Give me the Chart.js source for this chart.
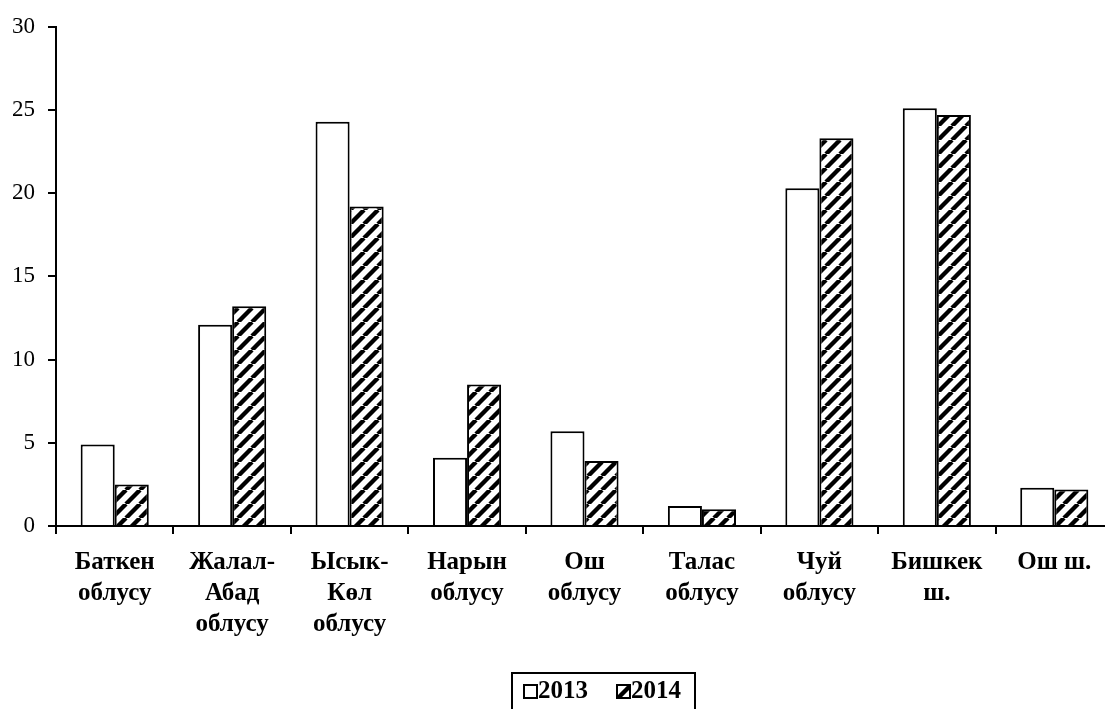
<!DOCTYPE html>
<html>
<head>
<meta charset="utf-8">
<script src="https://cdn.jsdelivr.net/npm/chart.js@4/dist/chart.umd.min.js"></script>
<style>
  html, body { margin: 0; padding: 0; background: #fff; overflow: hidden; }
  #wrap { width: 1120px; height: 709px; }
</style>
</head>
<body>
<div id="wrap"><canvas id="chart" width="1120" height="709"></canvas></div>
<script>
const regions = [
    ["Баткен", "облусу"],
    ["Жалал-", "Абад", "облусу"],
    ["Ысык-", "Көл", "облусу"],
    ["Нарын", "облусу"],
    ["Ош", "облусу"],
    ["Талас", "облусу"],
    ["Чуй", "облусу"],
    ["Бишкек", "ш."],
    ["Ош ш."]
];
const years = ["2013", "2014"];
const values2013 = [4.9, 12.1, 24.3, 4.1, 5.7, 1.2, 20.3, 25.1, 2.3];
const values2014 = [2.5, 13.2, 19.2, 8.5, 3.9, 1.0, 23.3, 24.7, 2.2];
const yTicks = [0, 5, 10, 15, 20, 25, 30];

const serif = "'Liberation Serif', 'Times New Roman', serif";

function hatch() {
    const s = 14;
    const c = document.createElement("canvas");
    c.width = s;
    c.height = s;
    const g = c.getContext("2d");
    g.fillStyle = "#fff";
    g.fillRect(0, 0, s, s);
    g.strokeStyle = "#000";
    g.lineWidth = 4.4;
    for (let k = -1; k <= 1; k++) {
        g.beginPath();
        g.moveTo(k * s, s);
        g.lineTo(k * s + s, 0);
        g.stroke();
    }
    return g.createPattern(c, "repeat");
}

const stripes = hatch();

// legend drawn by hand: a framed box under the axis labels
const boxLegend = {
    id: "boxLegend",
    afterDraw(chart) {
        const ctx = chart.ctx;
        ctx.save();
        ctx.lineWidth = 2;
        ctx.strokeStyle = "#000";
        ctx.strokeRect(512, 673, 183, 60);
        ctx.font = "bold 25px " + serif;
        ctx.textBaseline = "alphabetic";
        const items = [
            { x: 524, fill: "#fff" },
            { x: 617, fill: stripes }
        ];
        chart.data.datasets.forEach((ds, i) => {
            const it = items[i];
            ctx.fillStyle = it.fill;
            ctx.fillRect(it.x, 685, 13, 13);
            ctx.strokeRect(it.x, 685, 13, 13);
            ctx.fillStyle = "#000";
            ctx.fillText(ds.label, it.x + 14, 698);
        });
        ctx.restore();
    }
};

new Chart(document.getElementById("chart"), {
    type: "bar",
    data: {
        labels: regions,
        datasets: [{
            label: years[0],
            data: values2013,
            backgroundColor: "#fff",
            borderColor: "#000",
            borderWidth: 2
        }, {
            label: years[1],
            data: values2014,
            backgroundColor: stripes,
            borderColor: "#000",
            borderWidth: 2
        }]
    },
    options: {
        responsive: false,
        animation: false,
        devicePixelRatio: 1,
        layout: { padding: { top: 23, right: 7, left: 0, bottom: 0 } },
        datasets: { bar: { barPercentage: 1, categoryPercentage: 0.58 } },
        plugins: {
            legend: { display: false },
            tooltip: { enabled: false }
        },
        scales: {
            x: {
                afterFit: s => { s.height = 183; },
                grid: { drawOnChartArea: false, drawTicks: true, tickLength: 8, color: "#000", lineWidth: 2, offset: true },
                border: { color: "#000", width: 2 },
                ticks: {
                    color: "#000",
                    padding: 13,
                    maxRotation: 0,
                    autoSkip: false,
                    font: { family: serif, size: 25, weight: "bold", lineHeight: 1.24 }
                }
            },
            y: {
                min: 0,
                max: 30,
                afterFit: s => { s.width = 56; },
                afterBuildTicks: s => { s.ticks = yTicks.map(v => ({ value: v })); },
                grid: { drawOnChartArea: false, drawTicks: true, tickLength: 8, color: "#000", lineWidth: 2 },
                border: { color: "#000", width: 2 },
                ticks: {
                    color: "#000",
                    padding: 13,
                    font: { family: serif, size: 23 }
                }
            }
        }
    },
    plugins: [boxLegend]
});
</script>
</body>
</html>
